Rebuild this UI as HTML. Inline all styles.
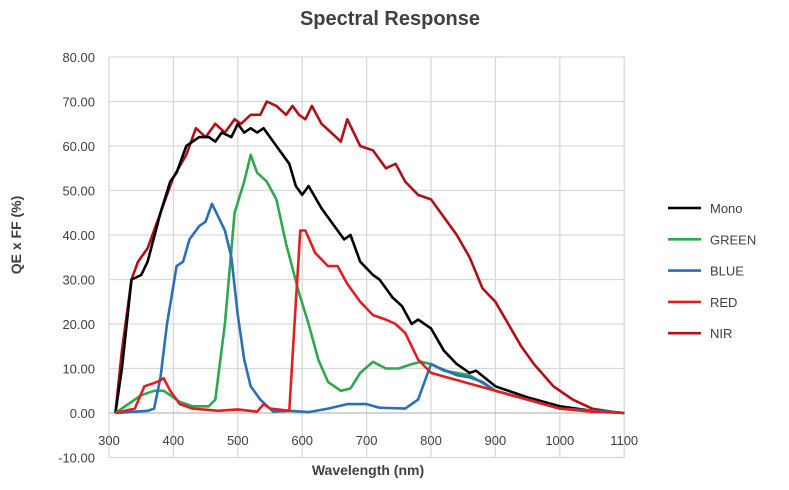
<!DOCTYPE html><html><head><style>body{margin:0;background:#fff}svg{display:block}text{font-family:"Liberation Sans",sans-serif;fill:#404040}</style></head><body>
<svg id="s" width="789" height="490" xmlns="http://www.w3.org/2000/svg">
<text x="390" y="25" text-anchor="middle" font-size="20" font-weight="bold">Spectral Response</text>
<g id="grid" stroke="#d9d9d9" stroke-width="1.3"></g>
<g id="lab" font-size="13"></g>
<text x="368" y="475" text-anchor="middle" font-size="14" font-weight="bold">Wavelength (nm)</text>
<text transform="translate(21,235) rotate(-90)" text-anchor="middle" font-size="14" font-weight="bold">QE x FF (%)</text>
<g id="ser" fill="none" stroke-width="2.6" stroke-linejoin="round"></g>
<g id="leg" font-size="13"></g>
</svg>
<script>
var X=function(n){return 109+(n-300)*0.644},Y=function(v){return 413-4.45*v};
var g=document.getElementById('grid'),l=document.getElementById('lab'),s=document.getElementById('ser'),lg=document.getElementById('leg'),h='',t='';
for(var v=-10;v<=80;v+=10){h+='<line x1="109" x2="625" y1="'+Y(v)+'" y2="'+Y(v)+'"/>';t+='<text x="95" y="'+(Y(v)+5)+'" text-anchor="end">'+v.toFixed(2)+'</text>';}
for(var n=300;n<=1100;n+=100){h+='<line y1="'+Y(80)+'" y2="'+Y(-10)+'" x1="'+X(n)+'" x2="'+X(n)+'"/>';t+='<text x="'+X(n)+'" y="445" text-anchor="middle">'+n+'</text>';}
h+='<line x1="109" x2="625" y1="413" y2="413" stroke="#bfbfbf"/>';
g.innerHTML=h;l.innerHTML=t;
var D={
NIR:["#b01018","310:0,320:14,335:30,345:34,360:37,380:45,400:53,420:58,435:64,450:62,465:65,480:63,495:66,505:65,520:67,535:67,545:70,560:69,575:67,585:69,595:67,605:66,615:69,630:65,645:63,660:61,670:66,690:60,710:59,730:55,745:56,760:52,780:49,800:48,820:44,840:40,860:35,880:28,900:25,920:20,940:15,960:11,990:6,1020:3,1050:1,1080:0.3,1100:0"],
Mono:["#000","310:0,320:10,335:30,350:31,360:34,380:45,395:52,405:54,420:60,440:62,455:62,465:61,475:63,490:62,500:65,510:63,520:64,530:63,540:64,560:60,580:56,590:51,600:49,610:51,630:46,650:42,665:39,675:40,690:34,710:31,720:30,740:26,755:24,770:20,780:21,800:19,820:14,840:11,860:9,870:9.5,900:6,950:3.5,1000:1.5,1050:0.5,1100:0"],
GREEN:["#2ea84f","310:0,330:2,350:4,370:5,385:5,395:4,410:2.5,430:1.5,455:1.5,465:3,480:20,495:45,510:52,520:58,530:54,545:52,560:48,575:38,595:27,610:20,625:12,640:7,660:5,675:5.5,690:9,710:11.5,730:10,750:10,770:11,785:11.5,800:11,820:9.5,860:8.5,900:5,950:3,1000:1,1100:0"],
BLUE:["#2a6fb8","310:0,360:0.5,370:1,380:8,390:20,405:33,415:34,425:39,440:42,450:43,460:47,470:44,480:41,490:35,500:22,510:12,520:6,535:3,555:0.3,580:0.5,610:0.2,640:1,670:2,700:2,720:1.2,760:1,780:3,800:11,815:10,840:8.5,860:8,880:7,900:5,950:3,1000:1,1100:0"],
RED:["#e02020","310:0,340:1,355:6,375:7,385:7.8,395:5,410:2,430:1,470:0.5,500:0.8,530:0.3,540:2,550:1,580:0.5,588:20,597:41,605:41,620:36,640:33,655:33,670:29,690:25,710:22,730:21,745:20,760:18,780:12,800:9,850:7,900:5,950:3,1000:1,1050:0.3,1100:0"]};
h='';for(var k in D){var p=D[k][1].split(',').map(function(q){var a=q.split(':');return X(+a[0]).toFixed(1)+','+Y(+a[1]).toFixed(1)});h+='<polyline stroke="'+D[k][0]+'" points="'+p.join(' ')+'"/>';}
s.innerHTML=h;
var L=[["Mono","#000"],["GREEN","#2ea84f"],["BLUE","#2a6fb8"],["RED","#e02020"],["NIR","#b01018"]];t='';
L.forEach(function(e,i){var y=208+i*31.3;t+='<line x1="668" x2="701" y1="'+y+'" y2="'+y+'" stroke="'+e[1]+'" stroke-width="2.6"/><text x="710" y="'+(y+5)+'">'+e[0]+'</text>';});
lg.innerHTML=t;
</script></body></html>
